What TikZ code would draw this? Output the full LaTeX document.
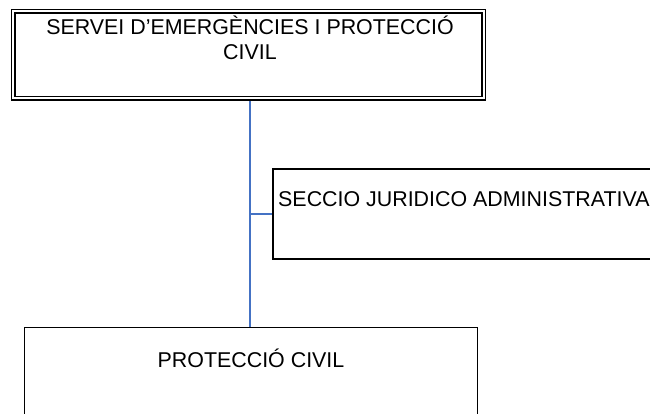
\documentclass[tikz,border=0pt]{standalone}
\usepackage{fontspec}
\setmainfont{Liberation Sans}
\definecolor{linkblue}{RGB}{68,114,196}
\begin{document}
\begin{tikzpicture}[x=1pt,y=-1pt,
  box/.style={draw=black, line width=1.3pt, inner sep=0pt, fill=none},
  dbox/.style={draw=black, line width=1.3pt, double=white, double distance=2pt, inner sep=0pt},
  lbl/.style={font=\fontsize{21.4}{25}\selectfont, inner sep=0pt},
  link/.style={draw=linkblue, line width=1.3pt}]
\useasboundingbox (0,0) rectangle (650,414);
\clip (0,0) rectangle (650,414);
\node[dbox, minimum width=470.4pt, minimum height=87.2pt] (top) at (248.5,54.9) {};
\node[box, minimum width=427pt, minimum height=90pt] (mid) at (486.5,214) {};
\node[box, minimum width=453pt, minimum height=132.5pt] (bot) at (251,393.75) {};
\node[lbl, anchor=base] (t1) at (250,35) {SERVEI D’EMERGÈNCIES I PROTECCIÓ};
\node[lbl, anchor=base] (t2) at (250,60) {CIVIL};
\node[lbl, anchor=base west] (tm) at (278,207) {SECCIO JURIDICO ADMINISTRATIVA};
\node[lbl, anchor=base] (tb) at (251,367) {PROTECCIÓ CIVIL};
\coordinate (j) at (250,214);
\coordinate (js) at (250,100.8);
\draw[link] (js) -- (bot.north -| j);
\draw[link] (j) -- (mid.west);
\end{tikzpicture}
\end{document}
